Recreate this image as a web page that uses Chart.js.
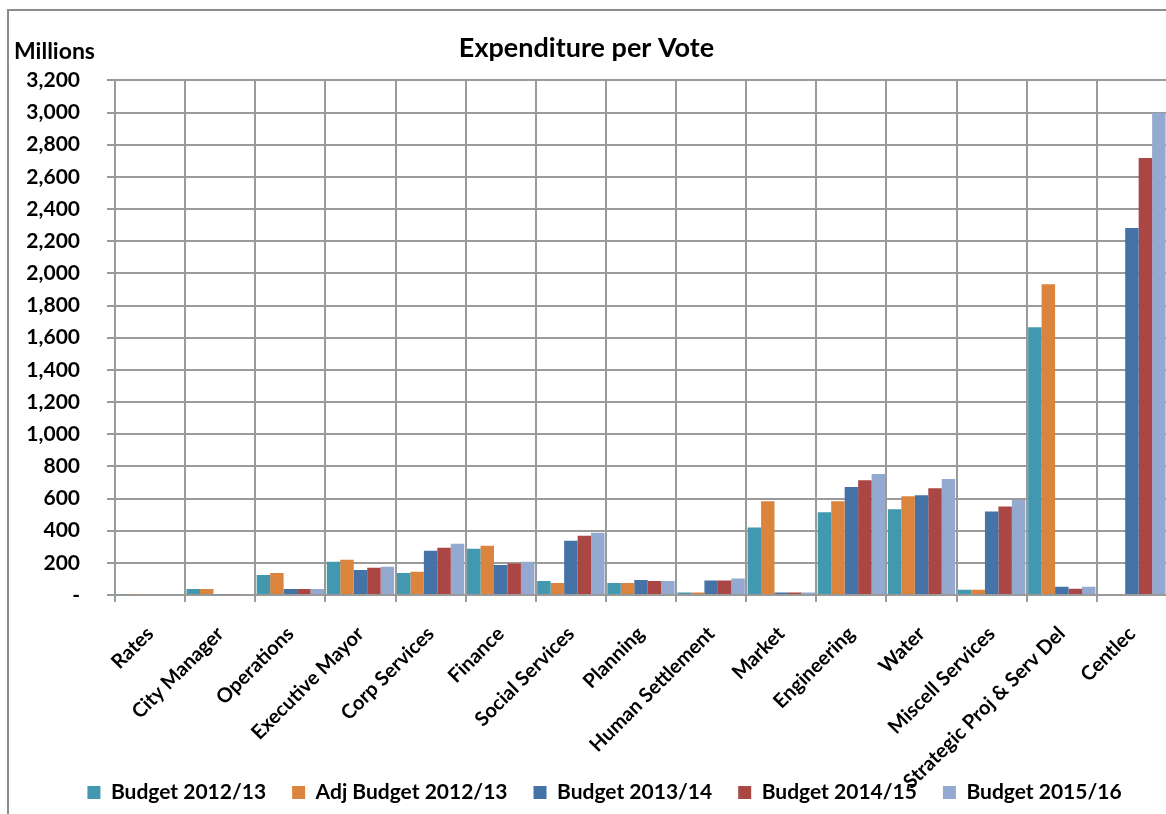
<!DOCTYPE html>
<html>
<head>
<meta charset="utf-8">
<title>Expenditure per Vote</title>
<style>
    body {
        margin: 0;
        overflow: hidden;
        background: #fff;
    }
    #wrap {
        position: relative;
        width: 1170px;
        height: 814px;
    }
</style>
</head>
<body>
<div id="wrap"><canvas id="vote-chart"></canvas></div>

<script src="https://cdn.jsdelivr.net/npm/chart.js@4.4.0/dist/chart.umd.min.js"></script>
<script>
    // Expenditure per vote, in millions
    const votes = [
        'Rates', 'City Manager', 'Operations', 'Executive Mayor', 'Corp Services',
        'Finance', 'Social Services', 'Planning', 'Human Settlement', 'Market',
        'Engineering', 'Water', 'Miscell Services', 'Strategic Proj & Serv Del', 'Centlec'
    ];

    const budget_2012 = [5, 38, 125, 206, 137, 287, 87, 75, 16, 420, 515, 533, 33, 1665, 0];
    const adj_budget_2012 = [5, 38, 137, 219, 144, 306, 75, 75, 16, 583, 583, 614, 33, 1933, 0];
    const budget_2013 = [0, 4, 37, 156, 275, 187, 337, 94, 90, 15, 671, 621, 519, 52, 2282];
    const budget_2014 = [0, 4, 37, 169, 294, 196, 369, 87, 90, 15, 714, 664, 550, 39, 2718];
    const budget_2015 = [0, 4, 37, 175, 319, 206, 387, 87, 103, 15, 752, 721, 592, 52, 2997];

    const series_names = ['Budget 2012/13', 'Adj Budget 2012/13', 'Budget 2013/14', 'Budget 2014/15', 'Budget 2015/16'];
    const series_colors = ['#4298af', '#db843d', '#4572a7', '#aa4643', '#93a9cf'];

    const y_max = 3200;
    const y_step = 200;

    const FONT = 'Lato';
    const GRID = '#9a9a9a';
    const PLOT_BOTTOM = 595;
    const PAD_BOTTOM = 1;
    const LEGEND_SHIFT = 9;
    const TITLE_SHIFT = -9;

    // Grey frame around the chart, the "Millions" unit label, and room
    // for the long rotated category names to hang below the axis box
    const framePlugin = {
        id: 'frame',
        afterLayout(chart) {
            chart.scales.x.bottom = chart.height;
            chart.legend.left += LEGEND_SHIFT;
            chart.legend.right += LEGEND_SHIFT;
            chart.titleBlock.left += TITLE_SHIFT;
            chart.titleBlock.right += TITLE_SHIFT;
        },
        beforeDraw(chart) {
            const ctx = chart.ctx;
            ctx.save();
            ctx.strokeStyle = '#8c8c8c';
            ctx.lineWidth = 2;
            ctx.strokeRect(8, 10, chart.width + 20, chart.height + 20);
            ctx.restore();
        },
        afterDraw(chart) {
            const ctx = chart.ctx;
            ctx.save();
            ctx.font = `bold 23px ${FONT}`;
            ctx.fillStyle = '#000';
            ctx.textBaseline = 'middle';
            ctx.fillText('Millions', 14, 52);
            ctx.restore();
        }
    };

    const datasets = [budget_2012, adj_budget_2012, budget_2013, budget_2014, budget_2015].map((values, i) => ({
        label: series_names[i],
        data: values,
        backgroundColor: series_colors[i],
        borderWidth: 0,
        barPercentage: 1.0,
        categoryPercentage: 0.96
    }));

    const ctx = document.getElementById('vote-chart').getContext('2d');
    const vote_chart = new Chart(ctx, {
        type: 'bar',
        data: {
            labels: votes,
            datasets: datasets
        },
        plugins: [framePlugin],
        options: {
            responsive: true,
            maintainAspectRatio: false,
            animation: false,
            layout: {
                padding: { left: 24, right: 3, top: 0, bottom: PAD_BOTTOM }
            },
            plugins: {
                title: {
                    display: true,
                    text: 'Expenditure per Vote',
                    color: '#000',
                    font: { family: FONT, size: 27, weight: 'bold' },
                    padding: { top: 32, bottom: 16 }
                },
                legend: {
                    position: 'bottom',
                    labels: {
                        color: '#000',
                        font: { family: FONT, size: 21, weight: 'bold' },
                        boxWidth: 13,
                        boxHeight: 13,
                        padding: 26
                    }
                },
                tooltip: { enabled: false }
            },
            scales: {
                x: {
                    grid: {
                        offset: true,
                        color: GRID,
                        lineWidth: 2,
                        tickLength: 7,
                        tickColor: GRID
                    },
                    border: { display: false },
                    ticks: {
                        color: '#000',
                        font: { family: FONT, size: 20, weight: 'bold' },
                        minRotation: 45,
                        maxRotation: 45,
                        autoSkip: false,
                        padding: 20
                    },
                    afterFit(scale) {
                        scale.height = scale.chart.height - PAD_BOTTOM - PLOT_BOTTOM - scale.chart.legend.height;
                    }
                },
                y: {
                    min: 0,
                    max: y_max,
                    grid: {
                        color: GRID,
                        lineWidth: 2,
                        tickLength: 8,
                        tickColor: GRID
                    },
                    border: { color: GRID, width: 2 },
                    ticks: {
                        stepSize: y_step,
                        color: '#000',
                        font: { family: FONT, size: 21, weight: 'bold' },
                        padding: 27,
                        callback: (value) => value === 0 ? '-' : value.toLocaleString('en-US')
                    },
                    afterFit(scale) {
                        scale.width = 115 - 24;
                    }
                }
            }
        }
    });
</script>
</body>
</html>
